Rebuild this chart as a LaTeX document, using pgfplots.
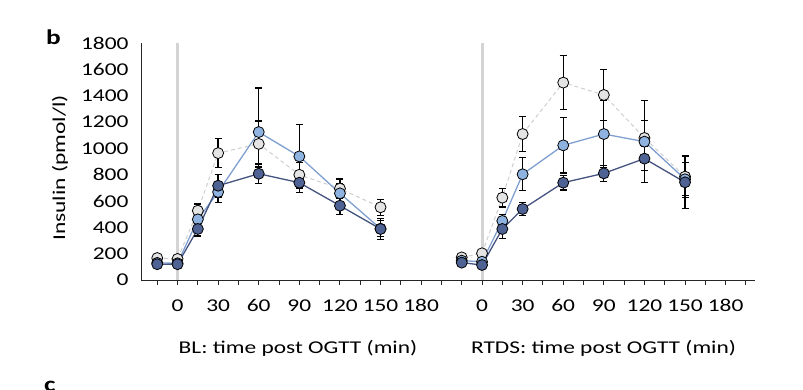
\documentclass[border=0pt]{standalone}
\usepackage{pgfplots}
\pgfplotsset{compat=1.18}
\usepackage{fontspec}
\setmainfont{Carlito}[FakeStretch=1.3]
\definecolor{gfill}{HTML}{E4E4E4}
\definecolor{gline}{HTML}{CFCFCF}
\definecolor{lbfill}{HTML}{8FB3E0}
\definecolor{lbline}{HTML}{7F9FD0}
\definecolor{dbfill}{HTML}{4E6294}
\definecolor{dbline}{HTML}{44537F}
\definecolor{vline}{HTML}{D4D4D4}
\pgfplotsset{
  eb/.style={
    error bars/y dir=both, error bars/y explicit,
    error bars/error bar style={black, line width=1.3pt, solid},
    error bars/error mark options={rotate=90, mark size=3.5pt, black, line width=1.3pt}
  },
  mk/.style={mark=*, mark size=5.5pt, mark options={solid, fill=#1, draw=black, line width=0.8pt}}
}
\begin{document}
\begin{tikzpicture}
\path[use as bounding box] (0pt,0pt) rectangle (803pt,390pt);
\begin{axis}[
  at={(141pt,110pt)}, anchor=south west,
  scale only axis, width=614pt, height=236.7pt,
  xmin=-27, xmax=426.7, ymin=0, ymax=1800,
  axis x line=bottom, axis y line=left,
  axis line style={-, black!85, line width=0.9pt},
  clip=false,
  xtick={0,30,60,90,120,150,180,225,255,285,315,345,375,405},
  xticklabels={0,30,60,90,120,150,180,0,30,60,90,120,150,180},
  minor xtick={-15,15,45,75,105,135,165,195,210,240,270,300,330,360,390,420},
  ytick={0,200,...,1800},
  tick align=outside,
  major tick length=5pt, minor tick length=5pt,
  xtick style={black!85, line width=0.9pt},
  minor tick style={black!85, line width=0.9pt},
  ytick style={draw=none},
  tick label style={font=\fontsize{18}{20}\selectfont},
  yticklabel style={xshift=-4pt},
  xticklabel style={yshift=-11pt},
  /pgf/number format/assume math mode=true,
  /pgf/number format/1000 sep={},
  scaled ticks=false,
]
% grey vertical reference lines at t=0
\addplot[color=vline, line width=3pt, no markers, forget plot] coordinates {(0,0) (0,1800)};
\addplot[color=vline, line width=3pt, no markers, forget plot] coordinates {(225,0) (225,1800)};

% ---------- BL panel ----------
\addplot[color=gline, line width=1pt, dash pattern=on 4pt off 3pt, mk=gfill, eb]
  table[x=x, y=y, y error=e] {
x y e
-15 167 20
0 160 20
15 527 50
30 965 110
60 1035 175
90 800 95
120 695 73
150 553 60
};
\addplot[color=lbline, line width=1.3pt, mk=lbfill, eb]
  table[x=x, y=y, y error=e] {
x y e
-15 130 15
0 127 15
15 461 60
30 669 80
60 1125 335
90 940 243
120 659 70
150 390 60
};
\addplot[color=dbline, line width=1.3pt, mk=dbfill, eb]
  table[x=x, y=y, y error=e] {
x y e
-15 120 15
0 120 15
15 388 53
30 717 85
60 808 75
90 740 75
120 565 68
150 388 79
};

% ---------- RTDS panel ----------
\addplot[color=gline, line width=1pt, dash pattern=on 4pt off 3pt, mk=gfill, eb]
  table[x=x, y=y, y error=e] {
x y e
210 172 20
225 203 20
240 626 71
255 1110 132
285 1501 205
315 1407 195
345 1080 132
375 786 160
};
\addplot[color=lbline, line width=1.3pt, mk=lbfill, eb]
  table[x=x, y=y, y error=e] {
x y e
210 147 15
225 139 15
240 449 50
255 804 125
285 1024 211
315 1110 255
345 1052 312
375 766 125
};
\addplot[color=dbline, line width=1.3pt, mk=dbfill, eb]
  table[x=x, y=y, y error=e] {
x y e
210 132 15
225 114 15
240 388 71
255 540 50
285 740 55
315 811 60
345 923 92
375 743 200
};
\end{axis}
\node[rotate=90, font=\fontsize{18}{20}\selectfont] at (60pt,222pt) {Insulin (pmol/l)};
\node[font=\fontsize{18}{20}\selectfont] at (298pt,42pt) {BL: time post OGTT (min)};
\node[font=\fontsize{18}{20}\selectfont] at (603.5pt,42pt) {RTDS: time post OGTT (min)};
\node[font=\fontsize{21}{22}\selectfont\bfseries, anchor=base west, inner sep=0pt] at (46pt,345pt) {b};
\node[font=\fontsize{21}{22}\selectfont\bfseries, anchor=base west, inner sep=0pt] at (44pt,-2pt) {c};
\end{tikzpicture}
\end{document}
